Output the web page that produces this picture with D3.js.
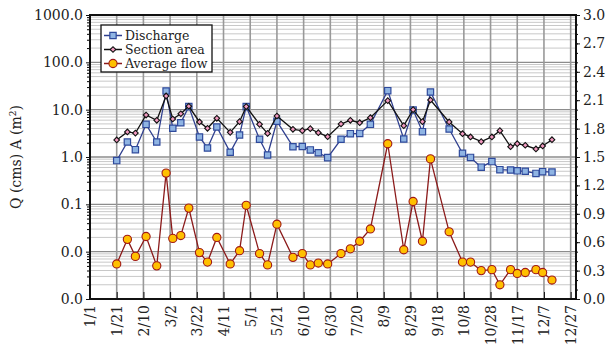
<!DOCTYPE html>
<html>
<head>
<meta charset="utf-8">
<script src="https://cdn.jsdelivr.net/npm/d3@7"></script>
<style>
  body { margin: 0; background: #fff; }
  text { font-family: "DejaVu Serif", serif; fill: #222; }
</style>
</head>
<body>
<svg id="chart" width="606" height="355"></svg>
<script>
// Sampling dates (2019) and measured series
const sampleDates = ["1/21","1/29","2/4","2/12","2/20","2/27","3/4","3/10","3/16","3/24",
  "3/30","4/6","4/16","4/23","4/28","5/8","5/14","5/21","6/2","6/9",
  "6/15","6/21","6/28","7/8","7/15","7/22","7/30","8/12","8/24","8/31",
  "9/7","9/13","9/27","10/7","10/13","10/21","10/29","11/4","11/12","11/17",
  "11/23","12/1","12/6","12/13"];

// Discharge Q (cms), left log axis
const discharge = [0.84,2.07,1.43,4.9,2.07,24.8,4.04,5.3,11.6,2.65,
  1.55,4.3,1.26,2.92,11.6,2.37,1.10,5.68,1.65,1.67,
  1.41,1.23,0.97,2.37,3.11,3.15,4.9,25.2,2.4,9.8,
  3.43,23.6,3.9,1.2,0.98,0.61,0.80,0.54,0.53,0.51,
  0.50,0.45,0.49,0.48];

// Section area A (m2), left log axis
const sectionArea = [2.29,3.38,3.2,7.7,5.96,19.5,6.35,8.2,11.8,5.5,
  4.04,6.57,3.32,5.58,11.6,4.9,3.15,7.35,3.85,3.6,
  3.97,3.26,2.69,4.98,5.96,5.3,6.77,15.5,4.59,10.0,
  5.58,16.0,5.5,3.11,2.65,2.11,2.65,3.6,1.65,1.91,
  1.77,1.48,1.71,2.32];

// Average flow velocity, right linear axis
const averageFlow = [0.37,0.63,0.45,0.66,0.35,1.33,0.64,0.67,0.96,0.49,
  0.39,0.65,0.37,0.51,0.99,0.48,0.36,0.79,0.44,0.48,
  0.36,0.38,0.37,0.48,0.53,0.61,0.74,1.64,0.52,1.03,
  0.61,1.48,0.71,0.39,0.39,0.30,0.31,0.15,0.31,0.27,
  0.28,0.31,0.28,0.20];

const xTickLabels = ["1/1","1/21","2/10","3/2","3/22","4/11","5/1","5/21","6/10","6/30",
  "7/20","8/9","8/29","9/18","10/8","10/28","11/17","12/7","12/27"];
const leftTicks = [0.001,0.01,0.1,1,10,100,1000];
const rightTicks = [0,0.3,0.6,0.9,1.2,1.5,1.8,2.1,2.4,2.7,3.0];

const seriesNames = ["Discharge","Section area","Average flow"];

const YEAR = 2019;
const toDate = s => { const [mo, d] = s.split("/").map(Number); return new Date(Date.UTC(YEAR, mo - 1, d)); };

const svg = d3.select("#chart");
const L = 90, R = 576, T = 15, B = 299;

const x = d3.scaleUtc()
  .domain([new Date(Date.UTC(YEAR, 0, 1)), new Date(Date.UTC(YEAR, 11, 31))])
  .range([L, R]);
const yL = d3.scaleLog().domain([0.001, 1000]).range([B, T]);
const yR = d3.scaleLinear().domain([0, 3]).range([B, T]);

const rows = sampleDates.map((s, i) => ({
  date: toDate(s), q: discharge[i], a: sectionArea[i], v: averageFlow[i]
}));

// log grid: minor lines then decade lines
const minorVals = [];
for (let e = -3; e < 3; e++) for (let k = 2; k <= 9; k++) minorVals.push(k * Math.pow(10, e));
const grid = svg.append("g");
grid.selectAll("line.minor").data(minorVals).join("line")
  .attr("x1", L).attr("x2", R)
  .attr("y1", d => yL(d)).attr("y2", d => yL(d))
  .attr("stroke", "#c8c8c8").attr("stroke-width", 1);
grid.selectAll("line.major").data(leftTicks).join("line")
  .attr("x1", L).attr("x2", R)
  .attr("y1", d => yL(d)).attr("y2", d => yL(d))
  .attr("stroke", "#8c8c8c").attr("stroke-width", 1.4);
const tickDates = xTickLabels.map(toDate);
grid.selectAll("line.v").data(tickDates).join("line")
  .attr("x1", d => x(d)).attr("x2", d => x(d))
  .attr("y1", T).attr("y2", B)
  .attr("stroke", "#999").attr("stroke-width", 1.6);

// series
function drawLine(acc, yScale, color, w) {
  svg.append("path").datum(rows)
    .attr("fill", "none").attr("stroke", color).attr("stroke-width", w)
    .attr("d", d3.line().x(d => x(d.date)).y(d => yScale(acc(d))));
}
const sq = d3.symbol().type(d3.symbolSquare).size(40);
const dia = d3.symbol().type(d3.symbolSquare).size(16);

// average flow
drawLine(d => d.v, yR, "#8b1a1a", 1.3);
svg.append("g").selectAll("circle").data(rows).join("circle")
  .attr("cx", d => x(d.date)).attr("cy", d => yR(d.v)).attr("r", 4.1)
  .attr("fill", "#ffc000").attr("stroke", "#a01818").attr("stroke-width", 1.1);

// discharge
drawLine(d => d.q, yL, "#2f3f8f", 1.3);
svg.append("g").selectAll("path").data(rows).join("path")
  .attr("d", sq).attr("transform", d => `translate(${x(d.date)},${yL(d.q)})`)
  .attr("fill", "#8fb4e3").attr("stroke", "#2f4a9c").attr("stroke-width", 1.2);

// section area (small rotated squares)
drawLine(d => d.a, yL, "#111", 1.3);
svg.append("g").selectAll("path").data(rows).join("path")
  .attr("d", dia).attr("transform", d => `translate(${x(d.date)},${yL(d.a)}) rotate(45)`)
  .attr("fill", "#f29ac0").attr("stroke", "#111").attr("stroke-width", 1.1);

// axes
const axL = svg.append("g").attr("transform", `translate(${L},0)`)
  .call(d3.axisLeft(yL).tickValues(leftTicks).tickFormat(d3.format(".1f")).tickSize(4).tickPadding(3));
svg.append("g").attr("transform", `translate(${L},0)`)
  .call(d3.axisLeft(yL).tickValues(minorVals).tickFormat("").tickSize(3))
  .call(g => g.select(".domain").remove());
const axR = svg.append("g").attr("transform", `translate(${R},0)`)
  .call(d3.axisRight(yR).tickValues(rightTicks).tickFormat(d3.format(".1f")).tickSize(4).tickPadding(3));
svg.append("g").attr("transform", `translate(${R},0)`)
  .call(d3.axisRight(yR).tickValues(d3.range(0.1, 3, 0.1)).tickFormat("").tickSize(2))
  .call(g => g.select(".domain").remove());
const axB = svg.append("g").attr("transform", `translate(0,${B})`)
  .call(d3.axisBottom(x).tickValues(tickDates).tickFormat((d, i) => xTickLabels[i]).tickSize(-7).tickPadding(6));
axB.selectAll("text")
  .attr("text-anchor", "end")
  .attr("x", 0).attr("y", 0)
  .attr("transform", "translate(0,6) rotate(-90)")
  .attr("dy", "0.35em");
[axL, axR, axB].forEach(a => {
  a.selectAll("text").style("font-size", "14px").attr("fill", "#222");
  a.selectAll("line").attr("stroke", "#111");
  a.select(".domain").attr("stroke", "none");
});

// frame
svg.append("rect").attr("x", L).attr("y", T).attr("width", R - L).attr("height", B - T)
  .attr("fill", "none").attr("stroke", "#111").attr("stroke-width", 2);

// y title
const yt = svg.append("text").attr("transform", `translate(21,${(T + B) / 2}) rotate(-90)`)
  .attr("text-anchor", "middle").style("font-size", "14px");
yt.append("tspan").text("Q (cms) A (m");
yt.append("tspan").text("2").attr("baseline-shift", "super").style("font-size", "9px");
yt.append("tspan").text(")");

// legend
const lg = svg.append("g").attr("transform", "translate(101,25)");
lg.append("rect").attr("width", 111).attr("height", 47).attr("fill", "#fff")
  .attr("stroke", "#111").attr("stroke-width", 1.3);
const legendStyles = [
  { line: "#2f3f8f", mark: g => g.append("path").attr("d", sq).attr("fill", "#8fb4e3").attr("stroke", "#2f4a9c").attr("stroke-width", 1.2) },
  { line: "#111", mark: g => g.append("path").attr("d", dia).attr("transform", "rotate(45)").attr("fill", "#f29ac0").attr("stroke", "#111").attr("stroke-width", 1.1) },
  { line: "#8b1a1a", mark: g => g.append("circle").attr("r", 4.1).attr("fill", "#ffc000").attr("stroke", "#a01818").attr("stroke-width", 1.1) }
];
seriesNames.forEach((name, i) => {
  const gy = 10.5 + i * 14;
  const row = lg.append("g").attr("transform", `translate(0,${gy})`);
  row.append("line").attr("x1", 3).attr("x2", 21).attr("stroke", legendStyles[i].line).attr("stroke-width", 1.5);
  legendStyles[i].mark(row.append("g").attr("transform", "translate(12,0)"));
  row.append("text").attr("x", 24).attr("dy", "0.35em").style("font-size", "12.5px").text(name);
});
</script>
</body>
</html>
